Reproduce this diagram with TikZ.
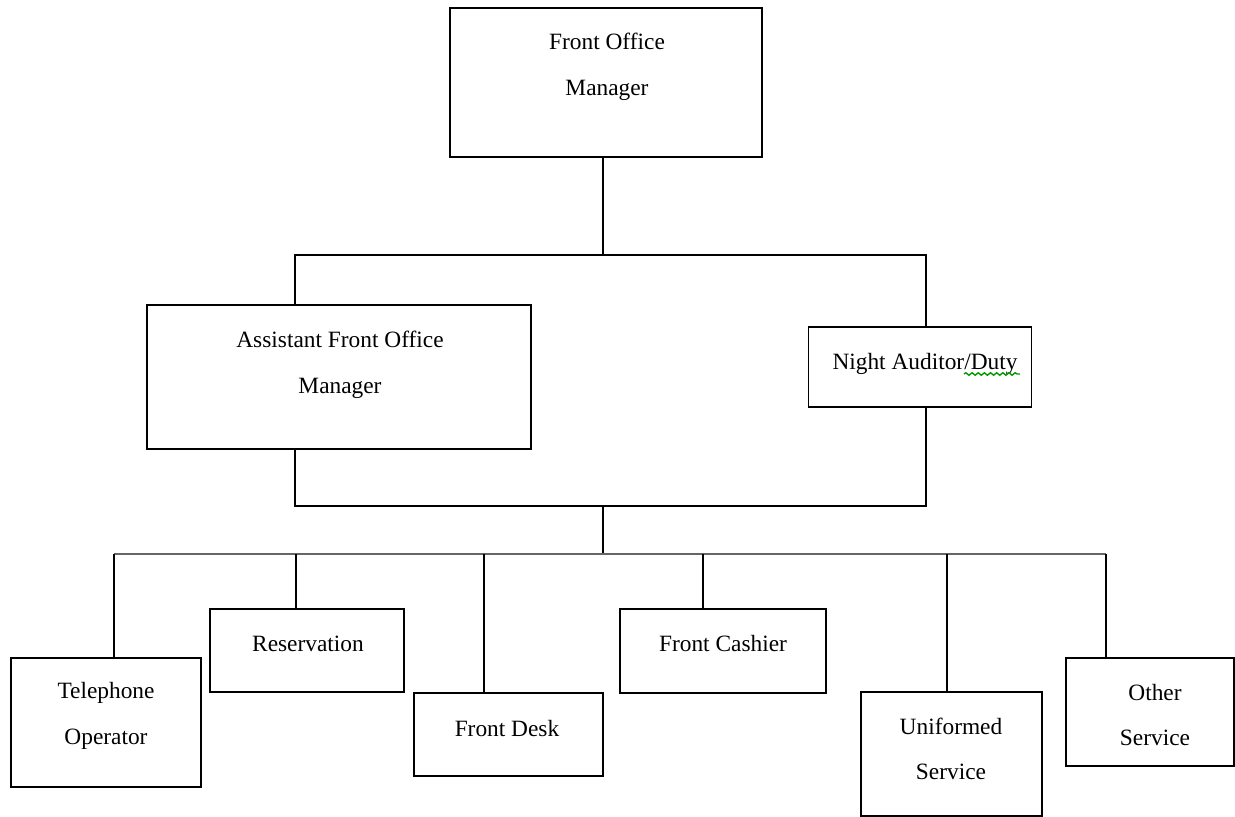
\documentclass[tikz,border=0pt]{standalone}
\usepackage{fontspec}
\setmainfont{Liberation Serif}
\usepackage{tikz}
\usetikzlibrary{positioning, decorations.pathmorphing}

\tikzset{
  box/.style={draw, line width=1pt, inner sep=0pt},
  txt/.style={align=center, inner sep=0pt, font=\fontsize{13.3}{26}\selectfont},
  link/.style={line width=1pt},
}

\begin{document}
\begin{tikzpicture}[x=0.02cm, y=-0.02cm]
                \useasboundingbox (0,0) rectangle (1235,817);
                % boxes
                \node[box, minimum width=6.24cm, minimum height=2.98cm] (fom) at (606,82.5) {};
                \node[box, minimum width=7.68cm, minimum height=2.88cm] (afom) at (339,377) {};
                \node[box, minimum width=4.46cm, minimum height=1.6cm] (nad) at (920,367) {};
                \node[box, minimum width=3.8cm, minimum height=2.58cm] (tel) at (106,722.5) {};
                \node[box, minimum width=3.88cm, minimum height=1.66cm] (res) at (307,650.5) {};
                \node[box, minimum width=3.78cm, minimum height=1.66cm] (desk) at (508.5,734.5) {};
                \node[box, minimum width=4.12cm, minimum height=1.68cm] (cash) at (723,651) {};
                \node[box, minimum width=3.62cm, minimum height=2.48cm] (unif) at (951.5,754) {};
                \node[box, minimum width=3.36cm, minimum height=2.16cm] (other) at (1150,712) {};
                % texts
                \node[txt] (fomtxt) at (607,67) {Front Office\\Manager};
                \node[txt] (afomtxt) at (340,365) {Assistant Front Office\\Manager};
                \node[txt] (nadtxt) at (925,364) {Night Auditor/Duty};
                \node[txt] (teltxt) at (106,716) {Telephone\\Operator};
                \node[txt] (restxt) at (308,644) {Reservation};
                \node[txt] (desktxt) at (507,729) {Front Desk};
                \node[txt] (cashtxt) at (723,644) {Front Cashier};
                \node[txt] (uniftxt) at (951,749) {Uniformed\\Service};
                \node[txt] (othertxt) at (1155,715) {Other\\Service};
                \draw[green!60!black, line width=0.8pt, decorate, decoration={snake, amplitude=0.7pt, segment length=3.5pt}]
                  (964,374) -- (1020,374);
                % junctions
                \coordinate (top) at (603,255);
                \coordinate (topl) at (295,255);
                \coordinate (topr) at (926,255);
                \coordinate (midl) at (295,506);
                \coordinate (midr) at (926,506);
                \coordinate (mid) at (603,506);
                \coordinate (low) at (603,554);
                \coordinate (lowl) at (114,554);
                \coordinate (lowr) at (1106,554);
                % connectors
                \draw[link] (fom.south -| top) -- (top);
                \draw[link] (topl |- afom.north) -- (topl) -- (topr) -- (topr |- nad.north);
                \draw[link] (midl |- afom.south) -- (midl) -- (midr) -- (midr |- nad.south);
                \draw[link] (mid) -- (low);
                \draw[link, line width=1.4pt, black!60] (lowl) -- (lowr);
                \draw[link] (lowl) -- (lowl |- tel.north);
                \draw[link] (296,554) -- (296,554 |- res.north);
                \draw[link] (484,554) -- (484,554 |- desk.north);
                \draw[link] (703,554) -- (703,554 |- cash.north);
                \draw[link] (947,554) -- (947,554 |- unif.north);
                \draw[link] (lowr) -- (lowr |- other.north);
            \end{tikzpicture}
\end{document}
